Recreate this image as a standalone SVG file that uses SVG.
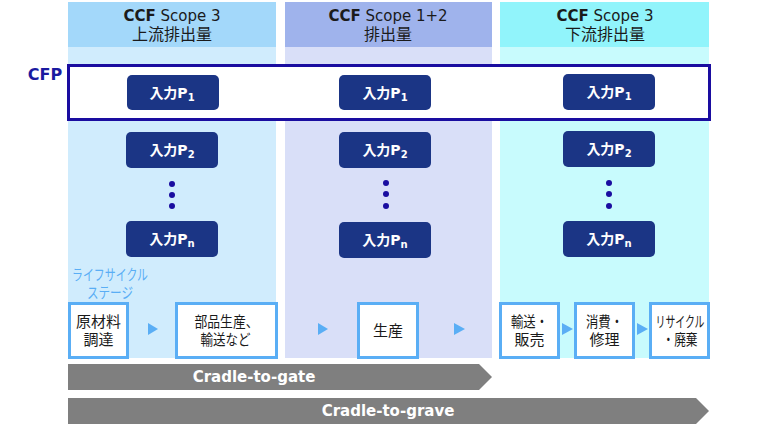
<svg xmlns="http://www.w3.org/2000/svg" width="780" height="431" viewBox="0 0 780 431">
<style>
text{font-family:"DejaVu Sans","Noto Sans CJK JP",sans-serif;}
.hd{font-size:15px;fill:#1a1a1a;text-anchor:middle;}
.hj{font-size:16px;fill:#1a1a1a;text-anchor:middle;}
.b{font-weight:bold;}
.pb{fill:#1b3585;}
.pt{font-size:14px;font-weight:bold;fill:#ffffff;text-anchor:middle;}
.sub{font-size:10px;}
.dot{fill:#1a0da0;}
.st{fill:#ffffff;stroke:#5aaef5;stroke-width:3;}
.stt{font-size:15px;fill:#1a1a1a;text-anchor:middle;}
.lc{font-size:15px;fill:#5aaef5;text-anchor:middle;}
.tri{fill:#5aaef5;}
.bar{fill:#7f7f7f;}
.bt{font-size:15px;font-weight:bold;fill:#ffffff;text-anchor:middle;}
</style>
<rect width="780" height="431" fill="#ffffff"/>
<g id="col-upstream">
<rect x="68" y="2" width="208" height="356" fill="#d0ecfd"/>
<rect x="68" y="2" width="208" height="45" fill="#a3d8fa"/>
<text class="hd" x="172" y="21"><tspan class="b">CCF</tspan> Scope 3</text>
<text class="hj" x="172" y="40">上流排出量</text>
</g>
<g id="col-direct">
<rect x="285" y="2" width="207" height="356" fill="#d9dff8"/>
<rect x="285" y="2" width="207" height="45" fill="#9fb3ec"/>
<text class="hd" x="388" y="21"><tspan class="b">CCF</tspan> Scope 1+2</text>
<text class="hj" x="388" y="40">排出量</text>
</g>
<g id="col-downstream">
<rect x="500" y="2" width="209" height="356" fill="#c8fbfd"/>
<rect x="500" y="2" width="209" height="45" fill="#91f4fb"/>
<text class="hd" x="605" y="21"><tspan class="b">CCF</tspan> Scope 3</text>
<text class="hj" x="605" y="40">下流排出量</text>
</g>
<g id="cfp">
<rect x="68.5" y="65.5" width="641" height="54" fill="#ffffff" stroke="#1a0da0" stroke-width="3"/>
<text x="45" y="80" font-size="16" font-weight="bold" fill="#1a1aa0" text-anchor="middle" font-family="Liberation Sans, Arial, sans-serif">CFP</text>
</g>
<g id="p1-a"><rect class="pb" x="127" y="75" width="92" height="35" rx="5"/><text class="pt" x="172" y="98">入力P<tspan class="sub" dy="3">1</tspan></text></g>
<g id="p1-b"><rect class="pb" x="339" y="75" width="92" height="35" rx="5"/><text class="pt" x="385" y="98">入力P<tspan class="sub" dy="3">1</tspan></text></g>
<g id="p1-c"><rect class="pb" x="563" y="74" width="92" height="36" rx="5"/><text class="pt" x="609" y="97">入力P<tspan class="sub" dy="3">1</tspan></text></g>
<g id="p2-a"><rect class="pb" x="126" y="132" width="92" height="36" rx="5"/><text class="pt" x="172" y="155">入力P<tspan class="sub" dy="3">2</tspan></text></g>
<g id="p2-b"><rect class="pb" x="339" y="132" width="92" height="36" rx="5"/><text class="pt" x="385" y="155">入力P<tspan class="sub" dy="3">2</tspan></text></g>
<g id="p2-c"><rect class="pb" x="563" y="131" width="92" height="36" rx="5"/><text class="pt" x="609" y="154">入力P<tspan class="sub" dy="3">2</tspan></text></g>
<g id="pn-a"><rect class="pb" x="126" y="221" width="92" height="36" rx="5"/><text class="pt" x="172" y="244">入力P<tspan class="sub" dy="3">n</tspan></text></g>
<g id="pn-b"><rect class="pb" x="339" y="222" width="92" height="36" rx="5"/><text class="pt" x="385" y="245">入力P<tspan class="sub" dy="3">n</tspan></text></g>
<g id="pn-c"><rect class="pb" x="563" y="221" width="92" height="36" rx="5"/><text class="pt" x="609" y="244">入力P<tspan class="sub" dy="3">n</tspan></text></g>
<g id="dots">
<circle class="dot" cx="172" cy="184" r="3"/><circle class="dot" cx="172" cy="195" r="3"/><circle class="dot" cx="172" cy="206" r="3"/>
<circle class="dot" cx="386" cy="183" r="3"/><circle class="dot" cx="386" cy="194" r="3"/><circle class="dot" cx="386" cy="206" r="3"/>
<circle class="dot" cx="609" cy="183" r="3"/><circle class="dot" cx="609" cy="194" r="3"/><circle class="dot" cx="609" cy="206" r="3"/>
</g>
<g id="lifecycle-label">
<text class="lc" x="110" y="280" textLength="76" lengthAdjust="spacingAndGlyphs">ライフサイクル</text>
<text class="lc" x="110" y="298" textLength="46" lengthAdjust="spacingAndGlyphs">ステージ</text>
</g>
<g id="s1"><rect class="st" x="69.5" y="303.5" width="58" height="54"/><text class="stt" x="98.5" y="327">原材料</text><text class="stt" x="98.5" y="345">調達</text></g>
<g id="s2"><rect class="st" x="176.5" y="303.5" width="100" height="54"/><text class="stt" x="226.5" y="327" textLength="64" lengthAdjust="spacingAndGlyphs">部品生産、</text><text class="stt" x="225.5" y="345" textLength="50" lengthAdjust="spacingAndGlyphs">輸送など</text></g>
<g id="s3"><rect class="st" x="358.5" y="303.5" width="59" height="54"/><text class="stt" x="388" y="336">生産</text></g>
<g id="s4"><rect class="st" x="500.5" y="303.5" width="58" height="54"/><text class="stt" x="529.5" y="327" textLength="37" lengthAdjust="spacingAndGlyphs">輸送・</text><text class="stt" x="529.5" y="345">販売</text></g>
<g id="s5"><rect class="st" x="575.5" y="303.5" width="58" height="54"/><text class="stt" x="604.5" y="327" textLength="37" lengthAdjust="spacingAndGlyphs">消費・</text><text class="stt" x="604.5" y="345">修理</text></g>
<g id="s6"><rect class="st" x="650.5" y="303.5" width="58" height="54"/><text class="stt" x="680" y="327" textLength="49" lengthAdjust="spacingAndGlyphs">リサイクル</text><text class="stt" x="680" y="345" textLength="35" lengthAdjust="spacingAndGlyphs">・廃棄</text></g>
<g id="connectors">
<polygon class="tri" points="148,323 158,329 148,335"/>
<polygon class="tri" points="318,323 328,329 318,335"/>
<polygon class="tri" points="454,323 465,329 454,335"/>
<polygon class="tri" points="562,323 573,329 562,335"/>
<polygon class="tri" points="637,323 648,329 637,335"/>
</g>
<g id="cradle-to-gate"><polygon class="bar" points="68,364 479,364 492,377 479,390 68,390"/><text class="bt" x="254" y="382">Cradle-to-gate</text></g>
<g id="cradle-to-grave"><polygon class="bar" points="68,398 696,398 709,411 696,424 68,424"/><text class="bt" x="388" y="416">Cradle-to-grave</text></g>
</svg>
